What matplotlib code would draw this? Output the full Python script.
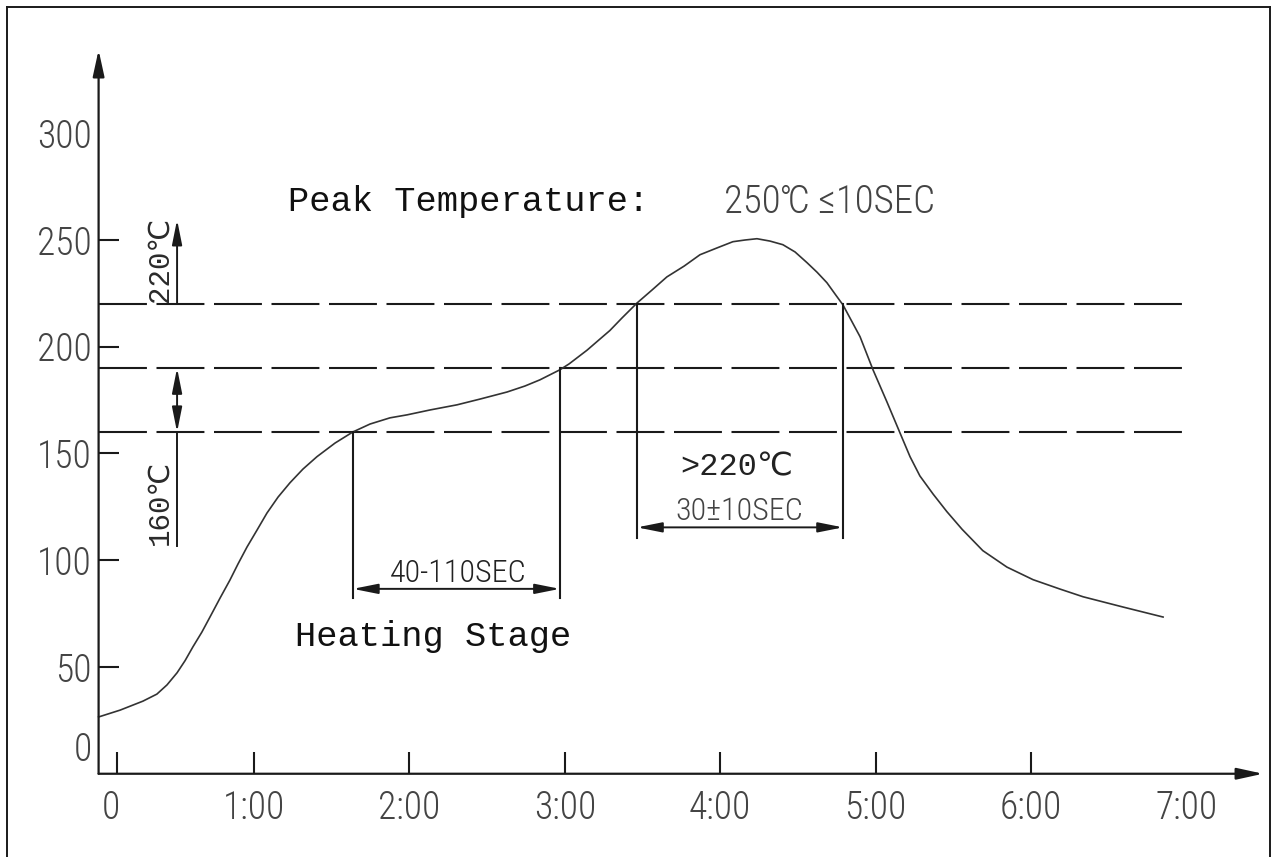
import matplotlib
matplotlib.use('Agg')
import matplotlib.pyplot as plt
from matplotlib import font_manager
from matplotlib.transforms import ScaledTranslation
from matplotlib.lines import Line2D

# --- DATA ---
time_s = [0, 8.3, 17.1, 22.5, 26.4, 30.3, 33.4, 36.4, 39.9, 43.0, 46.9, 50.7,
          53.8, 57.3, 61.2, 65.0, 69.3, 73.9, 78.9, 84.3, 91.3, 98.2,
          104.8, 112.5, 119.1, 128.0, 138.4, 147.3, 157.7, 164.6, 170.4, 178.1,
          181.7, 188.6, 192.8, 197.4, 202.1, 207.9, 213.7, 219.4, 226.1, 232.2,
          238.8, 244.9, 249.6, 254.2, 259.2, 264.2, 268.9, 273.5, 277.4, 281.2,
          284.4, 287.4, 294.0, 299.0, 304.4, 309.4, 313.3, 317.1, 322.2, 327.5,
          333.4, 341.4, 350.7, 360.8, 371.2, 380.1, 395.5, 411.0]
temp_c = [26.6, 29.8, 34.0, 37.3, 41.6, 47.3, 53.0, 59.4, 66.4, 73.4, 82.3, 90.7,
          98.2, 106.2, 114.2, 122.1, 129.6, 136.3, 142.7, 148.5, 154.9, 160.1,
          163.8, 166.7, 168.1, 170.4, 172.8, 175.5, 178.8, 181.6, 184.5, 189.2,
          192.0, 198.4, 202.8, 207.6, 213.5, 220.5, 226.6, 232.7, 237.8, 243.1,
          246.3, 249.2, 250.0, 250.6, 249.5, 247.8, 244.4, 239.4, 234.9, 230.0,
          224.6, 219.6, 204.7, 189.2, 174.1, 159.7, 148.5, 139.5, 131.0, 122.8,
          114.5, 104.5, 96.8, 90.9, 86.5, 82.9, 78.1, 73.4]

levels = [160, 190, 220]
soak_start, soak_end = 98.2, 178.1
reflow_start, reflow_end = 207.9, 287.4

y_ticks = [0, 50, 100, 150, 200, 250, 300]
y_labels = ['', '50', '100', '150', '200', '250', '300']
x_ticks = [7, 60, 120, 180, 240, 300, 360, 420]
x_labels = ['0', '1:00', '2:00', '3:00', '4:00', '5:00', '6:00', '7:00']


def pick(names):
    for n in names:
        try:
            font_manager.findfont(n, fallback_to_default=False)
            return n
        except Exception:
            pass
    return 'DejaVu Sans'


NARROW = pick(['Liberation Sans Narrow', 'Roboto Condensed', 'DejaVu Sans'])
MONO = pick(['Liberation Mono', 'DejaVu Sans Mono'])
narrow_fam = [NARROW, 'DejaVu Sans']
mono_fam = [MONO, 'DejaVu Sans Mono', 'DejaVu Sans']

INK = '#1a1a1a'
GREY = '#444444'

fig = plt.figure(figsize=(12.76, 8.57), dpi=100, facecolor='white')
ax = fig.add_axes([0.07727, 0.09714, 0.91340, 0.84703])
ax.set_xlim(0, 450)
ax.set_ylim(0, 340)
for s in ax.spines.values():
    s.set_visible(False)

# page frame (top, left, right)
fig.add_artist(Line2D([7 / 1276, 7 / 1276], [0, 1 - 7 / 857], transform=fig.transFigure, color=INK, lw=1.4))
fig.add_artist(Line2D([7 / 1276, 1270 / 1276], [1 - 7 / 857, 1 - 7 / 857], transform=fig.transFigure, color=INK, lw=1.4))
fig.add_artist(Line2D([1270 / 1276, 1270 / 1276], [0, 1 - 7 / 857], transform=fig.transFigure, color=INK, lw=1.4))

# axes with arrows
head = 'head_length=1.6,head_width=0.35'
ax.annotate('', xy=(449.6, 0), xytext=(0, 0), annotation_clip=False,
            arrowprops=dict(arrowstyle='-|>,' + head, lw=1.6, color=INK, shrinkA=0, shrinkB=0))
ax.annotate('', xy=(0, 339), xytext=(0, 0), annotation_clip=False,
            arrowprops=dict(arrowstyle='-|>,' + head, lw=1.6, color=INK, shrinkA=0, shrinkB=0))

# ticks
ax.set_xticks(x_ticks, x_labels)
ax.set_yticks(y_ticks, y_labels)
ax.tick_params(axis='x', direction='in', length=15.8, width=1.5, color=INK, pad=11,
               labelsize=27, labelcolor=GREY)
ax.tick_params(axis='y', direction='in', length=14.4, width=1.5, color=INK, pad=5,
               labelsize=27, labelcolor=GREY)
for lbl in ax.get_xticklabels() + ax.get_yticklabels():
    lbl.set_family(narrow_fam)
    lbl.set_fontweight('light')
xt = ax.xaxis.get_major_ticks()
xt[-1].tick1line.set_visible(False)
xt[0].label1.set_transform(xt[0].label1.get_transform()
                           + ScaledTranslation(-6 / 100, 0, fig.dpi_scale_trans))
yt = ax.yaxis.get_major_ticks()
yt[0].tick1line.set_visible(False)
yt[-1].tick1line.set_visible(False)
ax.annotate('0', xy=(0, 0), xytext=(-5, 17), textcoords='offset points', ha='right', va='center',
            fontsize=27, color=GREY, family=narrow_fam, fontweight='light', annotation_clip=False)

# dashed threshold lines
for lvl in levels:
    ax.plot([0, 419.5], [lvl, lvl], color=INK, lw=1.5, dashes=(23, 4.6), clip_on=False)

# profile curve
ax.plot(time_s, temp_c, color='#333333', lw=1.2, clip_on=False)

# vertical markers
ax.plot([soak_start, soak_start], [levels[0], 82.4], color=INK, lw=1.5)
ax.plot([soak_end, soak_end], [levels[1], 82.4], color=INK, lw=1.5)
ax.plot([reflow_start, reflow_start], [levels[2], 110.4], color=INK, lw=1.5)
ax.plot([reflow_end, reflow_end], [levels[2], 110.4], color=INK, lw=1.5)

dbl = dict(arrowstyle='<|-|>,head_length=1.5,head_width=0.3', lw=1.4, color=INK, shrinkA=0, shrinkB=0)
one = dict(arrowstyle='-|>,head_length=1.5,head_width=0.3', lw=1.4, color=INK, shrinkA=0, shrinkB=0)
ax.annotate('', xy=(soak_end, 86.6), xytext=(soak_start, 86.6), arrowprops=dbl)
ax.annotate('', xy=(reflow_end, 115.4), xytext=(reflow_start, 115.4), arrowprops=dbl)

# left-side temperature markers
xl = 30.3
ax.annotate('', xy=(xl, 259.5), xytext=(xl, levels[2]), arrowprops=one)
ax.annotate('', xy=(xl, levels[1]), xytext=(xl, levels[0]), arrowprops=dbl)
ax.plot([xl, xl], [levels[0], 106.8], color=INK, lw=1.4)

ax.text(23.7, 241.0, '220℃', rotation=90, ha='center', va='center', fontsize=21,
        color='#2a2a2a', family=mono_fam)
ax.text(23.7, 127.2, '160℃', rotation=90, ha='center', va='center', fontsize=21,
        color='#2a2a2a', family=mono_fam)

# labels
ax.text(73.1, 267.8, 'Peak Temperature:', ha='left', va='center', fontsize=25.5,
        color='#111111', family=mono_fam)
ax.text(241.5, 267.8, '250℃ ≤10SEC', ha='left', va='center', fontsize=28,
        color=GREY, family=narrow_fam, fontweight='light')
ax.text(246.5, 143.7, '>220℃', ha='center', va='center', fontsize=23,
        color='#222222', family=mono_fam)
ax.text(247.3, 122.6, '30±10SEC', ha='center', va='center', fontsize=23,
        color=GREY, family=narrow_fam, fontweight='light')
ax.text(138.8, 94.0, '40-110SEC', ha='center', va='center', fontsize=23,
        color='#222222', family=narrow_fam, fontweight='light')
ax.text(129.2, 64.5, 'Heating Stage', ha='center', va='center', fontsize=25.5,
        color='#111111', family=mono_fam)

fig.savefig('out.png', dpi=100, facecolor='white')
